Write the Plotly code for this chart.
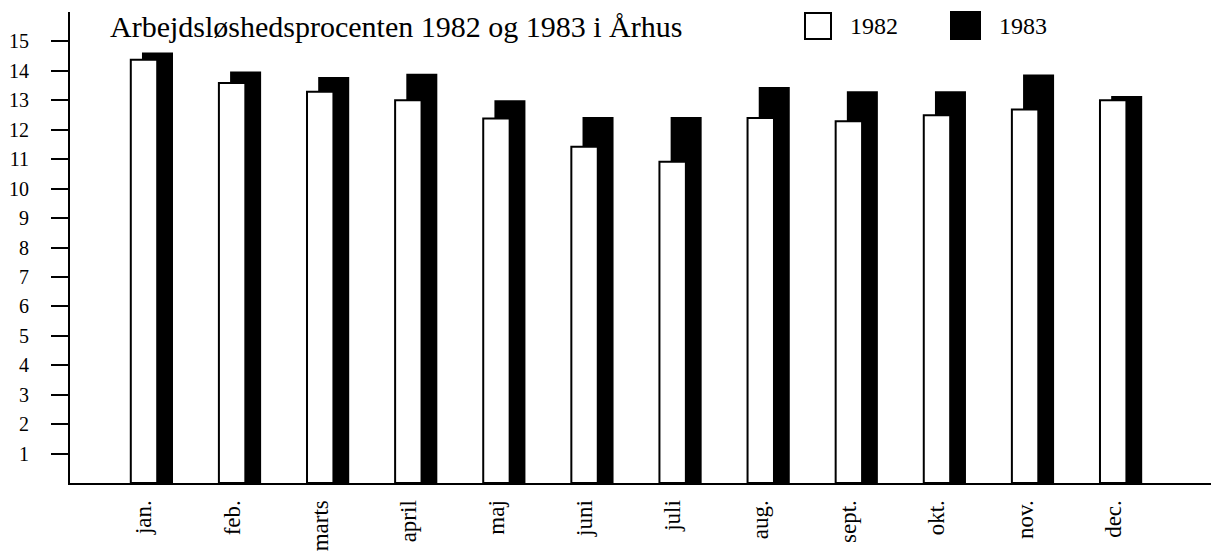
import plotly.graph_objects as go

months = ["jan.", "feb.", "marts", "april", "maj", "juni", "juli", "aug.", "sept.", "okt.", "nov.", "dec."]
values_1982 = [14.38, 13.59, 13.29, 13.0, 12.38, 11.42, 10.91, 12.40, 12.29, 12.49, 12.69, 13.0]
values_1983 = [14.62, 13.98, 13.79, 13.90, 13.0, 12.43, 12.43, 13.45, 13.31, 13.31, 13.88, 13.15]
y_ticks = list(range(1, 16))
title_text = "Arbejdsløshedsprocenten 1982 og 1983 i Århus"
series_names = ["1982", "1983"]

FONT = "Liberation Serif"
W, H = 1211, 553
ML, MR, MT, MB = 70, 0, 12, 70
PW, PH = W - ML - MR, H - MT - MB

def px_x(px):
    return (px - ML) / PW

def px_y(py):
    return (H - MB - py) / PH

xpos = list(range(len(months)))

fig = go.Figure()
fig.add_trace(go.Bar(
    x=xpos, y=values_1983, name=series_names[1],
    width=0.352, offset=-0.023,
    marker=dict(color="black", line=dict(width=0)),
))
fig.add_trace(go.Bar(
    x=xpos, y=values_1982, name=series_names[0],
    width=0.30, offset=-0.15,
    marker=dict(color="white", line=dict(color="black", width=2)),
))

fig.update_layout(
    width=W, height=H,
    margin=dict(l=ML, r=MR, t=MT, b=MB),
    barmode="overlay",
    showlegend=False,
    plot_bgcolor="white", paper_bgcolor="white",
    font=dict(family=FONT, color="black"),
    xaxis=dict(
        range=[-0.84, 12.11],
        tickvals=xpos, ticktext=months, tickangle=-90,
        showline=True, linecolor="black", linewidth=2,
        showgrid=False, zeroline=False, ticks="",
        tickfont=dict(family=FONT, size=23, color="black"),
        ticklabelstandoff=6,
        automargin=False,
    ),
    yaxis=dict(
        range=[0, 16],
        tickvals=y_ticks, ticktext=[str(v) for v in y_ticks],
        showline=True, linecolor="black", linewidth=2,
        showgrid=False, zeroline=False,
        ticks="outside", ticklen=17, tickwidth=2, tickcolor="black",
        tickfont=dict(family=FONT, size=20, color="black"),
        ticklabelstandoff=18,
        automargin=False,
    ),
)

fig.add_annotation(
    text=title_text, xref="paper", yref="paper",
    x=px_x(108), y=px_y(27), xanchor="left", yanchor="middle",
    showarrow=False, font=dict(family=FONT, size=30, color="black"),
)

# legend swatches
fig.add_shape(type="rect", xref="paper", yref="paper",
              x0=px_x(805), x1=px_x(831), y0=px_y(39), y1=px_y(13),
              fillcolor="white", line=dict(color="black", width=2))
fig.add_shape(type="rect", xref="paper", yref="paper",
              x0=px_x(950), x1=px_x(981), y0=px_y(40), y1=px_y(11),
              fillcolor="black", line=dict(color="black", width=0))
fig.add_annotation(text=series_names[0], xref="paper", yref="paper",
                   x=px_x(848), y=px_y(26), xanchor="left", yanchor="middle",
                   showarrow=False, font=dict(family=FONT, size=24, color="black"))
fig.add_annotation(text=series_names[1], xref="paper", yref="paper",
                   x=px_x(997), y=px_y(26), xanchor="left", yanchor="middle",
                   showarrow=False, font=dict(family=FONT, size=24, color="black"))

fig.write_html(
    "out.html",
    config={"displayModeBar": False},
    post_script="document.body.style.margin='0';document.body.style.overflow='hidden';",
)
